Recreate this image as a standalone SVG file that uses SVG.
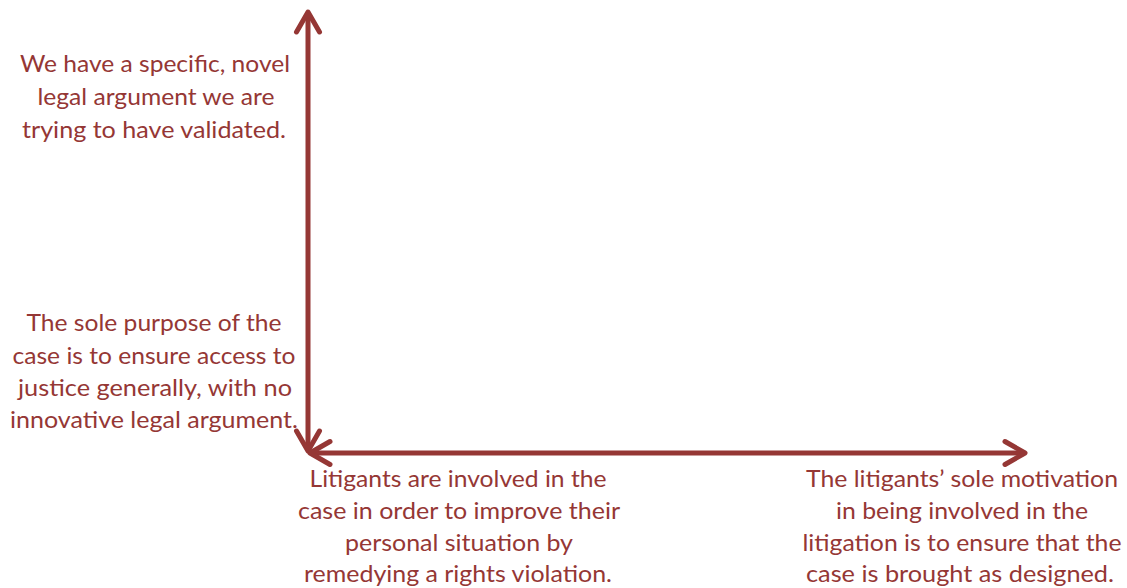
<svg xmlns="http://www.w3.org/2000/svg" width="1127" height="588" viewBox="0 0 1127 588">
<style>
.t{font-family:Lato,"Liberation Sans",sans-serif;font-size:24px;fill:#953735;text-anchor:middle}
.ax{stroke:#953735;stroke-width:5;fill:none}
</style>
<defs>
<marker id="ah" markerUnits="userSpaceOnUse" orient="auto-start-reverse" refX="0" refY="0" markerWidth="30" markerHeight="30" viewBox="-25 -15 30 30" overflow="visible">
<path d="M-20,-11.5 L0,0 L-20,11.5" fill="none" stroke="#953735" stroke-width="5" stroke-linecap="round" stroke-linejoin="round"/>
</marker>
</defs>
<rect width="1127" height="588" fill="#ffffff"/>
<g id="connectors">
<line class="ax" x1="308" y1="451" x2="308" y2="12" marker-start="url(#ah)" marker-end="url(#ah)"/>
<line class="ax" x1="310" y1="453" x2="1025" y2="453" marker-start="url(#ah)" marker-end="url(#ah)"/>
</g>
<g id="top-left">
<text class="t" x="155" y="72" textLength="270" lengthAdjust="spacingAndGlyphs">We have a specific, novel</text>
<text class="t" x="156" y="105" textLength="237" lengthAdjust="spacingAndGlyphs">legal argument we are</text>
<text class="t" x="154" y="138" textLength="264" lengthAdjust="spacingAndGlyphs">trying to have validated.</text>
</g>
<g id="bottom-left">
<text class="t" x="154" y="331" textLength="255" lengthAdjust="spacingAndGlyphs">The sole purpose of the</text>
<text class="t" x="154" y="364" textLength="283" lengthAdjust="spacingAndGlyphs">case is to ensure access to</text>
<text class="t" x="155" y="396" textLength="274" lengthAdjust="spacingAndGlyphs">justice generally, with no</text>
<text class="t" x="154" y="428" textLength="288" lengthAdjust="spacingAndGlyphs">innovative legal argument.</text>
</g>
<g id="bottom-middle">
<text class="t" x="458" y="487" textLength="297" lengthAdjust="spacingAndGlyphs">Litigants are involved in the</text>
<text class="t" x="459" y="519" textLength="322" lengthAdjust="spacingAndGlyphs">case in order to improve their</text>
<text class="t" x="459" y="551" textLength="228" lengthAdjust="spacingAndGlyphs">personal situation by</text>
<text class="t" x="458" y="582" textLength="308" lengthAdjust="spacingAndGlyphs">remedying a rights violation.</text>
</g>
<g id="bottom-right">
<text class="t" x="962" y="487" textLength="312" lengthAdjust="spacingAndGlyphs">The litigants’ sole motivation</text>
<text class="t" x="962" y="519" textLength="252" lengthAdjust="spacingAndGlyphs">in being involved in the</text>
<text class="t" x="962" y="551" textLength="319" lengthAdjust="spacingAndGlyphs">litigation is to ensure that the</text>
<text class="t" x="960" y="582" textLength="308" lengthAdjust="spacingAndGlyphs">case is brought as designed.</text>
</g>
</svg>
